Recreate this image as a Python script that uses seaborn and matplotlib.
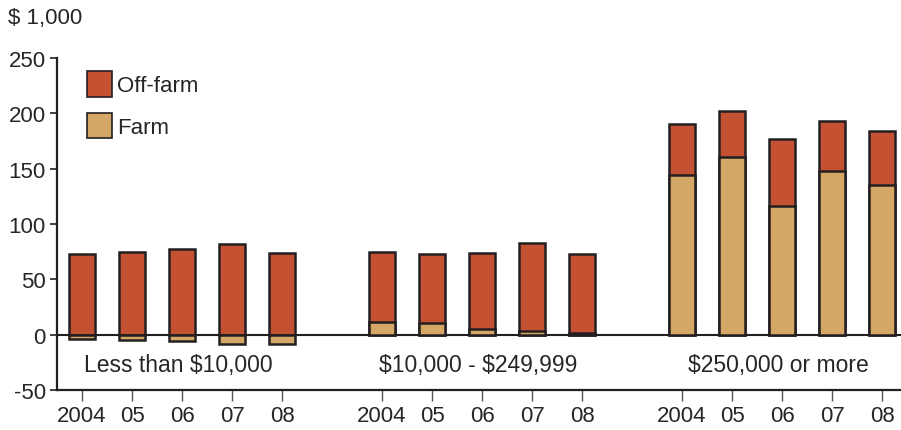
import pandas as pd
import seaborn as sns
import matplotlib.pyplot as plt
from matplotlib.patches import Patch

# values in $1,000
groups = ['Less than $10,000', '$10,000 - $249,999', '$250,000 or more']
years = ['2004', '05', '06', '07', '08']
farm_low = [-3.6, -4.8, -5.7, -8.5, -8.8]
offfarm_low = [73.0, 74.3, 77.6, 81.8, 73.7]
farm_mid = [11.5, 10.9, 5.1, 3.0, 1.5]
offfarm_mid = [63.7, 61.9, 68.3, 80.3, 71.3]
farm_high = [144.0, 160.3, 116.0, 148.0, 135.3]
offfarm_high = [46.5, 41.7, 60.6, 45.2, 48.6]

OFF_COLOR = '#C55133'
FARM_COLOR = '#D4A766'
EDGE = '#231F20'

# build a long table, one slot gap between groups
rows = []
for g, (farm, off) in enumerate([(farm_low, offfarm_low),
                                 (farm_mid, offfarm_mid),
                                 (farm_high, offfarm_high)]):
    for i, yr in enumerate(years):
        rows.append({'pos': g * 6 + i, 'year': yr, 'group': groups[g],
                     'farm': farm[i], 'top': max(farm[i], 0) + off[i]})
df = pd.DataFrame(rows)

sns.set_style('ticks')
plt.rcParams['font.family'] = ['Liberation Sans', 'DejaVu Sans']
plt.rcParams['font.size'] = 16
plt.rcParams['text.parse_math'] = False
plt.rcParams['axes.unicode_minus'] = False

fig = plt.figure(figsize=(9.01, 4.31), dpi=100)
ax = fig.add_axes([0.0633, 0.0928, 0.9367, 0.770])

# off-farm (total height from zero), then farm drawn over it
sns.barplot(data=df, x='pos', y='top', native_scale=True, orient='v', width=0.52,
            color=OFF_COLOR, saturation=1, edgecolor=EDGE, linewidth=1.8,
            errorbar=None, ax=ax)
sns.barplot(data=df, x='pos', y='farm', native_scale=True, orient='v', width=0.52,
            color=FARM_COLOR, saturation=1, edgecolor=EDGE, linewidth=1.8,
            errorbar=None, ax=ax)

ax.axhline(0, color=EDGE, lw=1.5, zorder=0.5)

ax.set_ylim(-50, 250)
ax.set_xlim(-0.5, 16.38)
ax.set_yticks(range(-50, 251, 50))
ax.set_xticks(df['pos'])
ax.set_xticklabels(df['year'])
ax.set_xlabel('')
ax.set_ylabel('')
ax.tick_params(axis='y', length=5, width=1.2, pad=3, labelsize=16, color=EDGE)
ax.tick_params(axis='x', length=8, width=1, pad=3, labelsize=16, color='#555555')

sns.despine(ax=ax)
for s in ['left', 'bottom']:
    ax.spines[s].set_linewidth(1.6)
    ax.spines[s].set_color(EDGE)

for g, name in enumerate(groups):
    ax.text(g * 6 + 1.92, -27, name, ha='center', va='center', fontsize=16.5)

fig.text(0.009, 0.958, '$ 1,000', ha='left', va='center', fontsize=16)

handles = [Patch(facecolor=OFF_COLOR, edgecolor=EDGE, lw=1.2, label='Off-farm'),
           Patch(facecolor=FARM_COLOR, edgecolor=EDGE, lw=1.2, label='Farm')]
ax.legend(handles=handles, loc='upper left', bbox_to_anchor=(0.0355, 0.961),
          frameon=False, borderpad=0, borderaxespad=0, handlelength=1.12,
          handleheight=1.4, handletextpad=0.25, labelspacing=0.72, fontsize=16)

fig.savefig('out.png', dpi=100)
